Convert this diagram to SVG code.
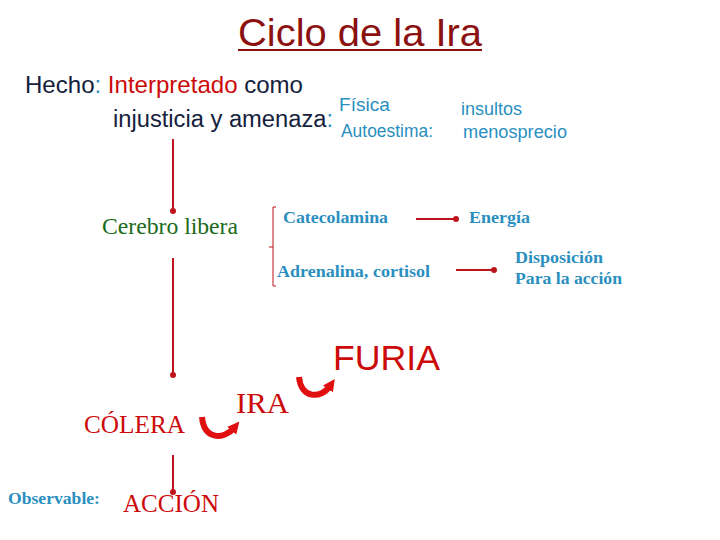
<svg xmlns="http://www.w3.org/2000/svg" width="720" height="540" viewBox="0 0 720 540">
<defs>
<style>
.sans{font-family:"Liberation Sans",Arial,sans-serif}
.serif{font-family:"Liberation Serif","Times New Roman",serif}
.navy{fill:#14213d}
.red{fill:#cc0a0a}
.teal{fill:#2a8fbf}
.bt{font-family:"Liberation Serif","Times New Roman",serif;font-weight:bold;fill:#2a8fbf;font-size:17.5px}
.ln{stroke:#c0141c;stroke-width:2;fill:none}
.cv{stroke:#e01010;stroke-width:6;fill:none}
</style>
<marker id="dot" viewBox="0 0 6 6" refX="3" refY="3" markerWidth="3" markerHeight="3">
<circle cx="3" cy="3" r="3" fill="#c0141c"/>
</marker>
<marker id="ah" viewBox="0 0 10 10" refX="3" refY="5" markerWidth="2" markerHeight="2.2" orient="auto">
<path d="M0,0 L10,5 L0,10 z" fill="#e01010"/>
</marker>
</defs>
<rect width="720" height="540" fill="#fff"/>

<g id="title">
<text x="360" y="46" text-anchor="middle" class="sans" font-size="39" fill="#8b1010" textLength="244" lengthAdjust="spacingAndGlyphs">Ciclo de la Ira</text>
<line x1="238" y1="50" x2="482" y2="50" stroke="#8b1010" stroke-width="2"/>
</g>

<g id="hecho">
<text x="25" y="93" class="sans" font-size="24" textLength="278" lengthAdjust="spacingAndGlyphs"><tspan class="navy">Hecho</tspan><tspan class="teal">: </tspan><tspan class="red">Interpretado</tspan><tspan class="navy"> como</tspan></text>
<text x="113" y="127" class="sans navy" font-size="23.5" textLength="220" lengthAdjust="spacingAndGlyphs">injusticia y amenaza<tspan class="teal">:</tspan></text>
</g>

<g id="tipos">
<text x="339" y="111" class="sans teal" font-size="19" textLength="51" lengthAdjust="spacingAndGlyphs">Física</text>
<text x="341" y="137" class="sans teal" font-size="17.5" textLength="92" lengthAdjust="spacingAndGlyphs">Autoestima:</text>
<text x="461" y="115" class="sans teal" font-size="18" textLength="61" lengthAdjust="spacingAndGlyphs">insultos</text>
<text x="463" y="138" class="sans teal" font-size="18" textLength="104" lengthAdjust="spacingAndGlyphs">menosprecio</text>
</g>

<g id="cerebro">
<text x="102" y="234" class="serif" font-size="24" fill="#1a6b1a" textLength="136" lengthAdjust="spacingAndGlyphs">Cerebro libera</text>
</g>

<g id="hormonas">
<text x="283" y="223" class="bt" textLength="105" lengthAdjust="spacingAndGlyphs">Catecolamina</text>
<text x="277" y="277" class="bt" textLength="153" lengthAdjust="spacingAndGlyphs">Adrenalina, cortisol</text>
</g>

<g id="efectos">
<text x="469" y="223" class="bt" textLength="61" lengthAdjust="spacingAndGlyphs">Energía</text>
<text x="515" y="263" class="bt" textLength="88" lengthAdjust="spacingAndGlyphs">Disposición</text>
<text x="515" y="284" class="bt" textLength="107" lengthAdjust="spacingAndGlyphs">Para la acción</text>
</g>

<g id="furia"><text x="333" y="370" class="sans red" font-size="35" textLength="107" lengthAdjust="spacingAndGlyphs">FURIA</text></g>
<g id="ira"><text x="236" y="413" class="serif red" font-size="30" textLength="53" lengthAdjust="spacingAndGlyphs">IRA</text></g>
<g id="colera"><text x="84" y="433" class="serif red" font-size="25" textLength="101" lengthAdjust="spacingAndGlyphs">CÓLERA</text></g>
<g id="observable"><text x="8" y="504" class="bt" textLength="92" lengthAdjust="spacingAndGlyphs">Observable:</text></g>
<g id="accion"><text x="123" y="512" class="serif red" font-size="25" textLength="96" lengthAdjust="spacingAndGlyphs">ACCIÓN</text></g>

<g id="connectors">
<line class="ln" x1="173" y1="139" x2="173" y2="211" marker-end="url(#dot)"/>
<line class="ln" x1="173" y1="258" x2="173" y2="375" marker-end="url(#dot)"/>
<line class="ln" x1="173" y1="455" x2="173" y2="492" marker-end="url(#dot)"/>
<line class="ln" x1="416" y1="219" x2="456" y2="219" marker-end="url(#dot)"/>
<line class="ln" x1="456" y1="270" x2="494" y2="270" marker-end="url(#dot)"/>
<path d="M276,207 H273 V286 H276 M273,247 H269" stroke="#c0141c" stroke-width="1" fill="none"/>
<path class="cv" d="M202,417 C204,440 224,440 234,428" marker-end="url(#ah)"/>
<path class="cv" d="M299,377 C301,399 321,399 330,386" marker-end="url(#ah)"/>
</g>
</svg>
